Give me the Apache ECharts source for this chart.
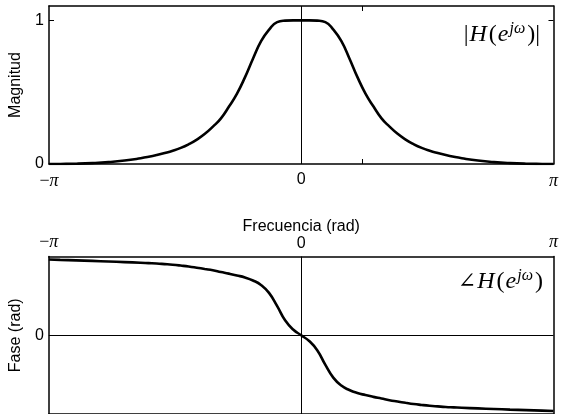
<!DOCTYPE html>
<html>
<head>
<meta charset="utf-8">
<script src="https://cdn.jsdelivr.net/npm/echarts@6/dist/echarts.min.js"></script>
<style>
  html, body { margin: 0; padding: 0; background: #fff; }
  #chart { width: 561px; height: 414px; }
</style>
</head>
<body>
<div id="chart"></div>
<script>
// Frequency grid (rad), from -pi to pi
var freq = [
  -Math.PI, -3.0, -2.8, -2.6, -2.4, -2.2, -2.0, -1.9, -1.8, -1.7, -1.6, -1.5, -1.4, -1.3, -1.2, -1.1,
  -1.0, -0.9, -0.8, -0.7, -0.6, -0.5, -0.4, -0.3, -0.2, -0.1, 0,
  0.1, 0.2, 0.3, 0.4, 0.5, 0.6, 0.7, 0.8, 0.9, 1.0,
  1.1, 1.2, 1.3, 1.4, 1.5, 1.6, 1.7, 1.8, 1.9, 2.0, 2.2, 2.4, 2.6, 2.8, 3.0, Math.PI
];

// Magnitude response |H(e^jw)|
var magnitude = [
  0, 0.0005, 0.002, 0.006, 0.013, 0.024, 0.04, 0.05, 0.062, 0.076, 0.092, 0.112, 0.138, 0.17, 0.21, 0.26,
  0.318, 0.40, 0.49, 0.605, 0.735, 0.855, 0.935, 0.988, 0.998, 1.0, 1.0,
  1.0, 0.998, 0.988, 0.935, 0.855, 0.735, 0.605, 0.49, 0.40, 0.318,
  0.26, 0.21, 0.17, 0.138, 0.112, 0.092, 0.076, 0.062, 0.05, 0.04, 0.024, 0.013, 0.006, 0.002, 0.0005, 0
];

// Phase response (rad)
var phase = [
  1.511, 1.503, 1.493, 1.483, 1.471, 1.459, 1.447, 1.439, 1.431, 1.419, 1.406, 1.390, 1.372, 1.348, 1.322, 1.296,
  1.262, 1.229, 1.193, 1.153, 1.093, 1.004, 0.845, 0.586, 0.298, 0.115, 0,
  -0.115, -0.298, -0.586, -0.845, -1.004, -1.093, -1.153, -1.193, -1.229, -1.262,
  -1.296, -1.322, -1.348, -1.372, -1.390, -1.406, -1.419, -1.431, -1.439, -1.447, -1.459, -1.471, -1.483, -1.493, -1.503, -1.511
];

// Axis ticks and labels
var freqLabelValues = [-Math.PI, 0, Math.PI];
var freqTickValues = [0.757];
var magLabelValues = [0, 1];
var magTickValues = [1];
var phaseLabelValues = [0];

function pair(xs, ys) {
  return xs.map(function (x, i) { return [x, ys[i]]; });
}

var SANS = '"Liberation Sans", Arial, sans-serif';
var SERIF = '"Liberation Serif", "DejaVu Serif", serif';

function freqLabel(v) {
  if (Math.abs(v) < 1e-9) return '{n|0}';
  return v < 0 ? '{m|\u2212}{p|\u03c0}' : '{p|\u03c0}';
}
var freqRich = {
  n: { fontFamily: SANS, fontSize: 16, color: '#000' },
  m: { fontFamily: SERIF, fontSize: 18, color: '#000' },
  p: { fontFamily: SERIF, fontStyle: 'italic', fontSize: 18, color: '#000' }
};

// Rich styles for the math annotations
var mathRich = {
  r: { fontFamily: SERIF, fontSize: 24, lineHeight: 28, color: '#000' },
  h: { fontFamily: SERIF, fontStyle: 'italic', fontSize: 24, lineHeight: 28, color: '#000', padding: [0, 2, 0, 1] },
  e: { fontFamily: SERIF, fontStyle: 'italic', fontSize: 24, lineHeight: 28, color: '#000', padding: [0, 1, 0, 1] },
  s: { fontFamily: SERIF, fontStyle: 'italic', fontSize: 16, lineHeight: 28, verticalAlign: 'top', color: '#000', padding: [0, 2, 0, 0] },
  a: { fontFamily: SERIF, fontSize: 22, lineHeight: 28, color: '#000' }
};

var frameLine = { show: true, onZero: false, lineStyle: { color: '#000', width: 1.5 } };
var zeroLine = { color: '#000', width: 1, type: 'solid' };

var option = {
  animation: false,
  backgroundColor: '#fff',
  grid: [
    { left: 44, right: 5, top: 6, height: 158 },
    { left: 44, right: 5, top: 256.5, height: 158 }
  ],
  xAxis: [
    {
      gridIndex: 0, type: 'value', min: -Math.PI, max: Math.PI, position: 'bottom',
      axisLine: frameLine,
      axisTick: { show: true, inside: true, length: 5, customValues: freqTickValues, lineStyle: { color: '#000', width: 1 } },
      axisLabel: { show: true, customValues: freqLabelValues, formatter: freqLabel, rich: freqRich, margin: 8 },
      splitLine: { show: false },
      name: 'Frecuencia (rad)', nameLocation: 'middle', nameGap: 55,
      nameTextStyle: { fontFamily: SANS, fontSize: 16, color: '#000' }
    },
    {
      gridIndex: 0, type: 'value', min: -Math.PI, max: Math.PI, position: 'top',
      axisLine: frameLine,
      axisTick: { show: true, inside: true, length: 5, customValues: freqTickValues, lineStyle: { color: '#000', width: 1 } },
      axisLabel: { show: false },
      splitLine: { show: false }
    },
    {
      gridIndex: 1, type: 'value', min: -Math.PI, max: Math.PI, position: 'top',
      axisLine: frameLine,
      axisTick: { show: false },
      axisLabel: { show: true, customValues: freqLabelValues, formatter: freqLabel, rich: freqRich, margin: 5 },
      splitLine: { show: false }
    },
    {
      gridIndex: 1, type: 'value', min: -Math.PI, max: Math.PI, position: 'bottom',
      axisLine: frameLine,
      axisTick: { show: false }, axisLabel: { show: false }, splitLine: { show: false }
    }
  ],
  yAxis: [
    {
      gridIndex: 0, type: 'value', min: 0, max: 1.1, position: 'left',
      axisLine: frameLine,
      axisTick: { show: true, inside: true, length: 5, customValues: magTickValues, lineStyle: { color: '#000', width: 1 } },
      axisLabel: { show: true, customValues: magLabelValues, margin: 5, fontFamily: SANS, fontSize: 16, color: '#000' },
      splitLine: { show: false },
      name: 'Magnitud', nameLocation: 'middle', nameGap: 25, nameRotate: 90,
      nameTextStyle: { fontFamily: SANS, fontSize: 16, color: '#000' }
    },
    {
      gridIndex: 0, type: 'value', min: 0, max: 1.1, position: 'right',
      axisLine: frameLine,
      axisTick: { show: true, inside: true, length: 5, customValues: magTickValues, lineStyle: { color: '#000', width: 1 } },
      axisLabel: { show: false }, splitLine: { show: false }
    },
    {
      gridIndex: 1, type: 'value', min: -Math.PI / 2, max: Math.PI / 2, position: 'left',
      axisLine: frameLine,
      axisTick: { show: false },
      axisLabel: { show: true, customValues: phaseLabelValues, margin: 5, fontFamily: SANS, fontSize: 16, color: '#000' },
      splitLine: { show: false },
      name: 'Fase (rad)', nameLocation: 'middle', nameGap: 23, nameRotate: 90,
      nameTextStyle: { fontFamily: SANS, fontSize: 16, color: '#000' }
    },
    {
      gridIndex: 1, type: 'value', min: -Math.PI / 2, max: Math.PI / 2, position: 'right',
      axisLine: frameLine,
      axisTick: { show: false }, axisLabel: { show: false }, splitLine: { show: false }
    }
  ],
  series: [
    {
      name: 'magnitud', type: 'line', xAxisIndex: 0, yAxisIndex: 0,
      data: pair(freq, magnitude),
      showSymbol: false, smooth: 0.5, clip: true,
      lineStyle: { color: '#000', width: 2.6 },
      markLine: {
        silent: true, symbol: ['none', 'none'], label: { show: false },
        lineStyle: zeroLine,
        data: [{ xAxis: 0 }]
      },
      z: 3
    },
    {
      name: 'fase', type: 'line', xAxisIndex: 2, yAxisIndex: 2,
      data: pair(freq, phase),
      showSymbol: false, smooth: 0.5, clip: true,
      lineStyle: { color: '#000', width: 2.6 },
      markLine: {
        silent: true, symbol: ['none', 'none'], label: { show: false },
        lineStyle: zeroLine,
        data: [{ xAxis: 0 }, { yAxis: 0 }]
      },
      z: 3
    }
  ],
  graphic: [
    {
      type: 'text', right: 21, top: 21, z: 10,
      style: { text: '{r||}{h|H}{r|(}{e|e}{s|j\u03c9}{r|)|}', rich: mathRich }
    },
    {
      type: 'text', right: 18, top: 268, z: 10,
      style: { text: '{a|\u2220}{h|H}{r|(}{e|e}{s|j\u03c9}{r|)}', rich: mathRich }
    }
  ]
};

var chart = echarts.init(document.getElementById('chart'), null, { renderer: 'canvas' });
chart.setOption(option);
</script>
</body>
</html>
